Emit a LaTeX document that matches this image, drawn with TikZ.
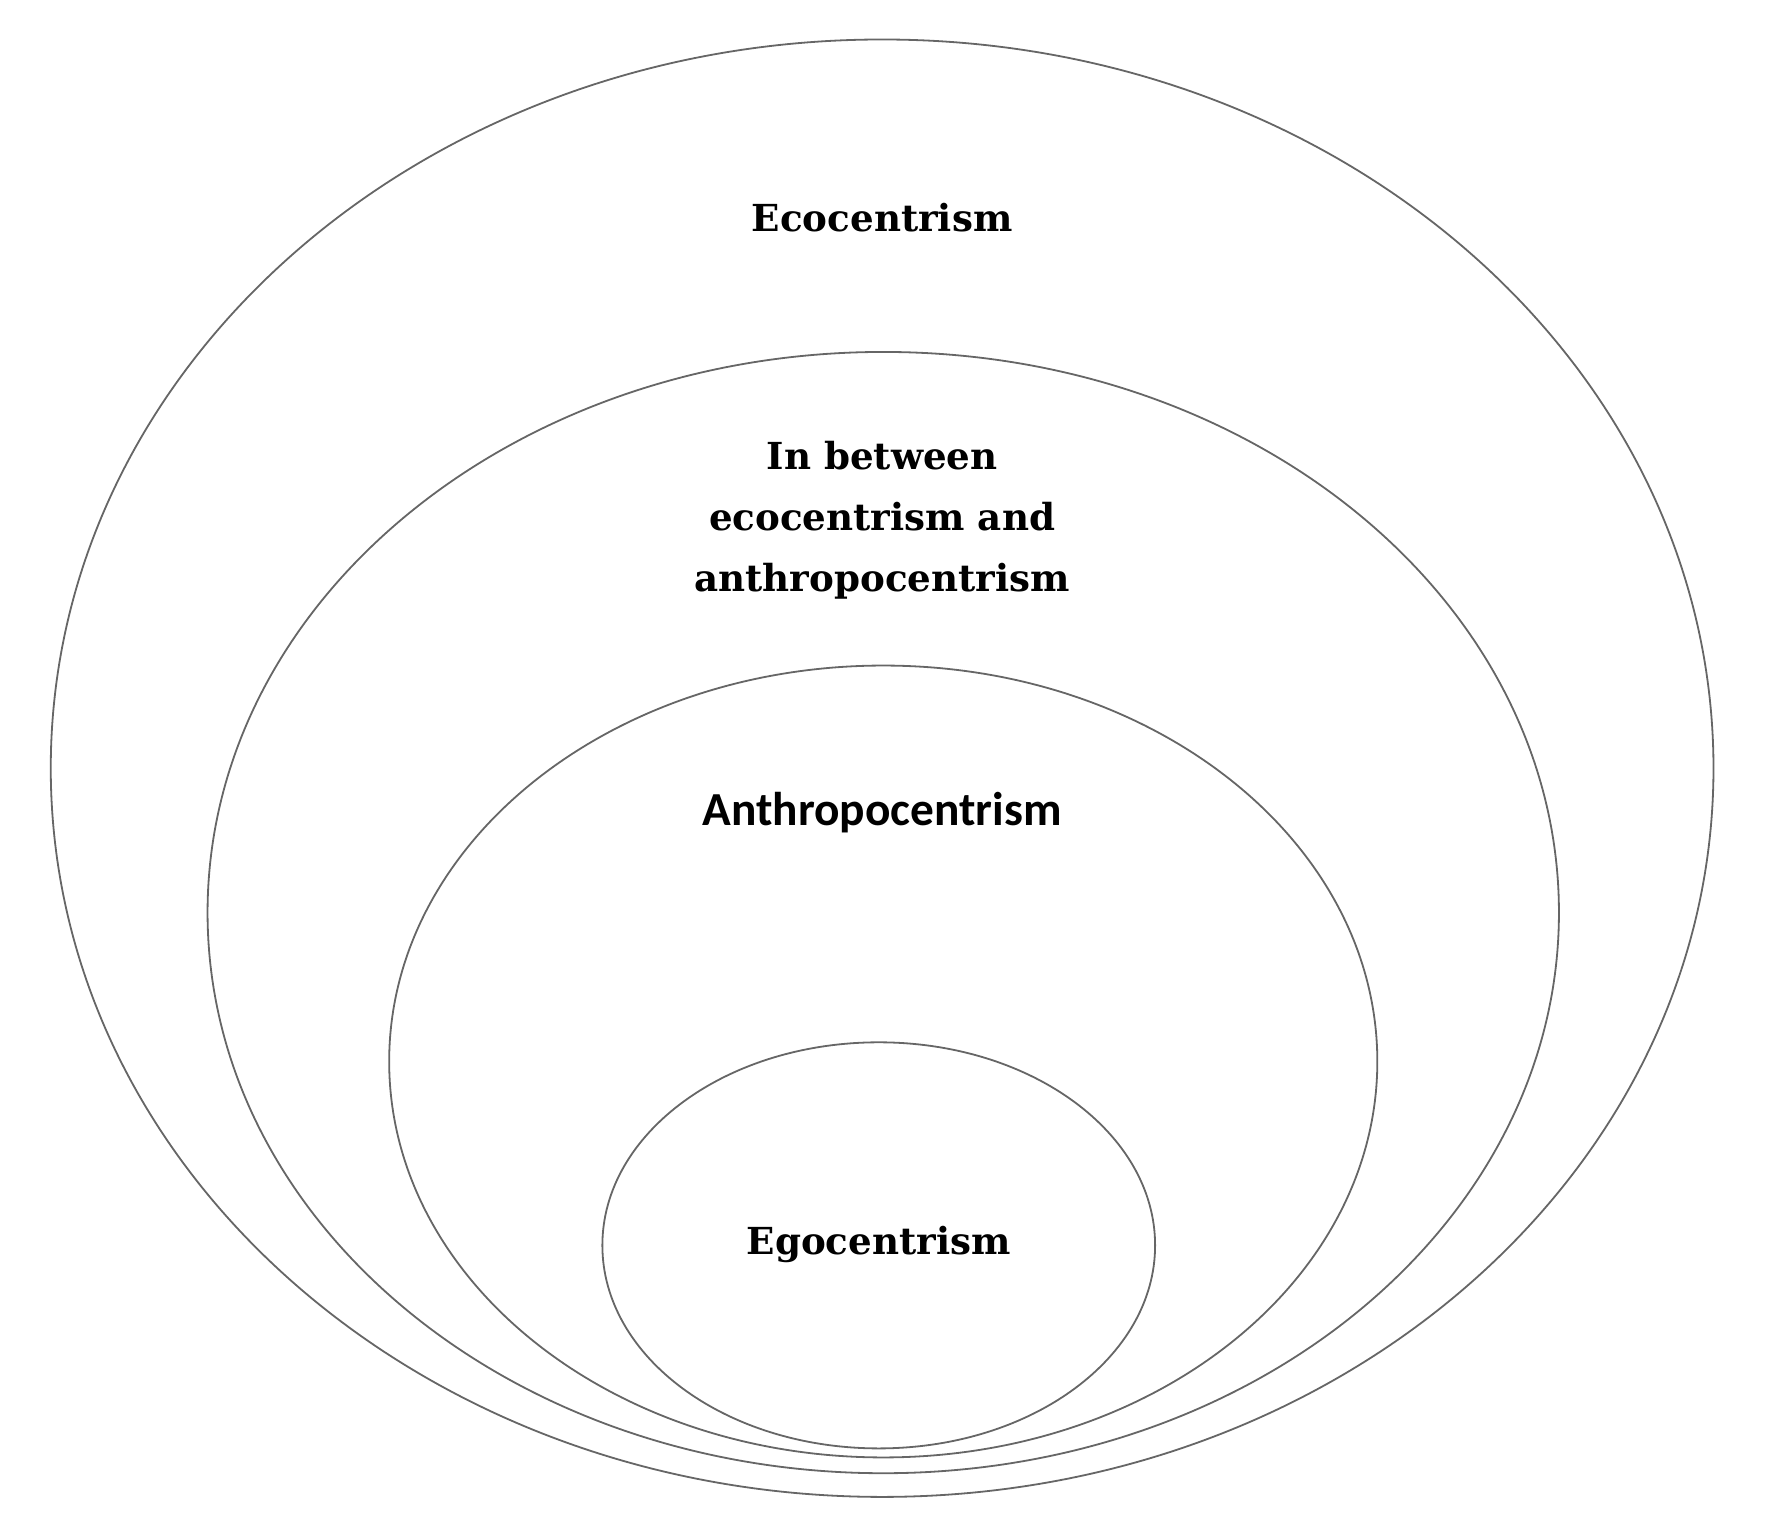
\documentclass[tikz,border=0pt]{standalone}
\usepackage{fontspec}
\setmainfont{DejaVu Serif}
\newfontfamily\carl{Carlito}
\begin{document}
\begin{tikzpicture}[x=1pt,y=-1pt,
  ring/.style={draw=black!60,line width=1.6pt},
  lab/.style={font=\fontsize{33}{54}\selectfont\bfseries,align=center}]
\useasboundingbox (0,0) rectangle (1570,1358);
\draw[ring] (782,681) ellipse [x radius=737,y radius=646];
\draw[ring] (783,809) ellipse [x radius=599,y radius=497];
\draw[ring] (783,941) ellipse [x radius=438,y radius=351];
\draw[ring] (779,1104) ellipse [x radius=245,y radius=180];
\node[lab] (eco) at (782,193) {Ecocentrism};
\node[lab] (mid) at (782,461) {In between\\ecocentrism and\\anthropocentrism};
\node[lab,font=\carl\fontsize{42}{48}\selectfont\bfseries] (anth) at (782,720) {Anthropocentrism};
\node[lab] (ego) at (779,1103) {Egocentrism};
\end{tikzpicture}
\end{document}
